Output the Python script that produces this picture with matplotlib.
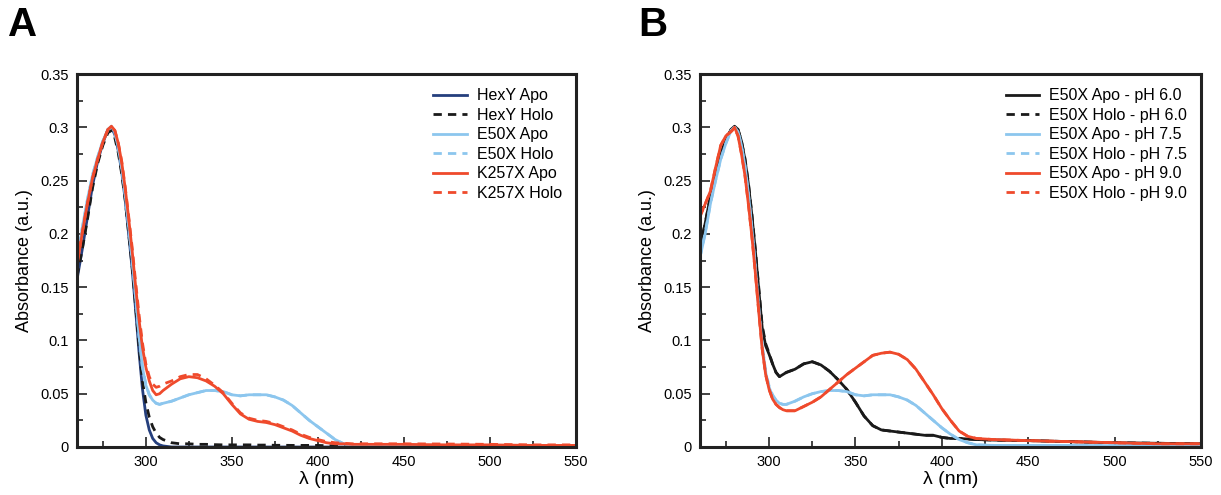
import numpy as np
import matplotlib
matplotlib.use("Agg")
import matplotlib.pyplot as plt
from matplotlib.ticker import MultipleLocator

plt.rcParams['font.family'] = ['Liberation Sans', 'DejaVu Sans']

# wavelength grid (nm), shared by every curve
wl = [260, 263, 266, 269, 272, 275, 278, 280, 282, 284, 286, 288, 290, 292, 294, 296, 298,
      300, 302, 304, 306, 308, 310, 315, 320, 325, 330, 335, 340, 345, 350, 355, 360, 365,
      370, 375, 380, 385, 390, 395, 400, 405, 410, 415, 420, 430, 450, 475, 500, 525, 550]

# ---- panel A ----
hexy_apo = [.157, .185, .215, .245, .268, .285, .298, .300, .293, .278, .258, .232, .200, .168, .130, .090, .055,
            .030, .016, .008, .004, .002, .001, 0, 0, 0, 0, 0, 0, 0, 0, 0, 0, 0,
            0, 0, 0, 0, 0, 0, 0, 0, 0, 0, 0, 0, 0, 0, 0, 0, 0]
hexy_holo = [.160, .185, .213, .243, .266, .283, .295, .297, .290, .276, .256, .232, .201, .170, .133, .095, .062,
             .042, .028, .019, .013, .009, .007, .004, .003, .003, .0025, .0025, .0022, .002, .002, .002, .002, .0018,
             .0018, .0016, .0016, .0015, .0015, .0015, .0015, .0012, .0012, .001, .001, .001, .001, .0008, .0005, .0003, .0002]
e50x_apo = [.175, .205, .232, .255, .272, .287, .298, .301, .295, .281, .262, .237, .207, .177, .142, .105, .075,
            .058, .049, .044, .041, .040, .041, .043, .046, .049, .051, .053, .053, .052, .049, .048, .049, .049,
            .049, .047, .044, .039, .032, .025, .019, .013, .007, .003, .0015, .001, .001, .0008, .0006, .0005, .0005]
e50x_holo = [.176, .205, .231, .255, .272, .287, .298, .300, .295, .281, .262, .237, .207, .177, .142, .105, .076,
             .059, .049, .044, .041, .040, .041, .043, .046, .049, .051, .053, .053, .052, .049, .048, .049, .049,
             .049, .047, .044, .039, .032, .025, .019, .013, .007, .003, .0015, .001, .001, .0008, .0006, .0005, .0005]
k257x_apo = [.170, .200, .228, .252, .270, .286, .298, .301, .297, .285, .267, .243, .215, .185, .152, .120, .094,
             .075, .062, .053, .049, .050, .053, .059, .064, .066, .065, .062, .057, .050, .040, .031, .026, .024,
             .023, .021, .018, .015, .011, .008, .006, .004, .003, .003, .0025, .0025, .0025, .002, .002, .0015, .0015]
k257x_holo = [.172, .201, .228, .252, .270, .286, .298, .300, .297, .285, .268, .244, .217, .188, .156, .125, .098,
              .078, .066, .059, .056, .057, .059, .062, .066, .068, .068, .064, .058, .051, .041, .032, .027, .025,
              .024, .022, .019, .016, .012, .009, .007, .005, .004, .0035, .003, .003, .003, .0028, .0025, .002, .002]

# ---- panel B ----
ph60_apo = [.188, .210, .235, .258, .275, .288, .298, .301, .298, .287, .270, .247, .218, .185, .148, .112, .095,
            .087, .078, .070, .066, .068, .070, .073, .078, .080, .077, .071, .063, .054, .042, .029, .020, .016,
            .015, .014, .013, .012, .011, .011, .009, .008, .008, .0075, .007, .0065, .006, .005, .004, .0035, .003]
ph60_holo = [.187, .210, .235, .258, .275, .288, .298, .300, .298, .287, .271, .248, .219, .186, .150, .114, .097,
             .088, .078, .070, .066, .068, .070, .073, .078, .080, .077, .071, .063, .054, .042, .029, .020, .016,
             .015, .014, .013, .012, .011, .011, .009, .008, .008, .0075, .007, .0065, .006, .005, .004, .0035, .003]
ph75_apo = [.178, .200, .228, .250, .270, .285, .297, .300, .296, .283, .264, .238, .206, .170, .130, .095, .070,
            .056, .048, .044, .041, .040, .040, .043, .047, .050, .052, .053, .053, .052, .049, .048, .049, .049,
            .049, .047, .044, .039, .032, .025, .018, .012, .007, .004, .002, .0015, .0015, .0015, .0012, .001, .001]
ph75_holo = [.178, .201, .228, .250, .270, .285, .297, .300, .296, .283, .264, .238, .206, .170, .131, .096, .071,
             .057, .049, .044, .041, .040, .040, .043, .047, .050, .052, .053, .053, .052, .049, .048, .049, .049,
             .049, .047, .044, .039, .032, .025, .018, .012, .007, .004, .002, .0015, .0015, .0015, .0012, .001, .001]
ph90_apo = [.217, .228, .240, .262, .283, .292, .296, .300, .292, .275, .255, .228, .198, .164, .127, .092, .068,
            .054, .045, .040, .037, .035, .034, .034, .038, .042, .047, .054, .061, .068, .074, .080, .086, .088,
            .089, .087, .082, .073, .061, .049, .036, .025, .015, .010, .008, .007, .006, .005, .004, .003, .003]
ph90_holo = [.216, .228, .240, .262, .283, .292, .296, .299, .292, .275, .255, .228, .198, .164, .127, .092, .068,
             .054, .045, .040, .037, .035, .034, .034, .038, .042, .047, .054, .061, .068, .074, .080, .086, .088,
             .089, .087, .082, .073, .061, .049, .036, .025, .015, .010, .008, .007, .006, .005, .004, .003, .003]

navy = '#253f7d'
black = '#1a1a1a'
lblue = '#8cc6ee'
red = '#ef4a2c'

series_a = [(hexy_apo, 'HexY Apo', navy, '-'),
            (hexy_holo, 'HexY Holo', black, '--'),
            (e50x_apo, 'E50X Apo', lblue, '-'),
            (e50x_holo, 'E50X Holo', lblue, '--'),
            (k257x_apo, 'K257X Apo', red, '-'),
            (k257x_holo, 'K257X Holo', red, '--')]
series_b = [(ph60_apo, 'E50X Apo - pH 6.0', black, '-'),
            (ph60_holo, 'E50X Holo - pH 6.0', black, '--'),
            (ph75_apo, 'E50X Apo - pH 7.5', lblue, '-'),
            (ph75_holo, 'E50X Holo - pH 7.5', lblue, '--'),
            (ph90_apo, 'E50X Apo - pH 9.0', red, '-'),
            (ph90_holo, 'E50X Holo - pH 9.0', red, '--')]

fig = plt.figure(figsize=(12.21, 4.95), dpi=100)
axA = fig.add_axes([77/1221, 1-447/495, (576-77)/1221, (447-74)/495])
axB = fig.add_axes([700/1221, 1-447/495, (1201-700)/1221, (447-74)/495])

for ax, series in [(axA, series_a), (axB, series_b)]:
    for vals, lab, col, ls in series:
        ax.plot(wl, vals, color=col, ls=ls, lw=2.0, label=lab,
                dashes=(3, 2.2) if ls == '--' else (None, None))
    ax.set_xlim(260, 550)
    ax.set_ylim(0, 0.35)
    ax.xaxis.set_minor_locator(MultipleLocator(25))
    ax.yaxis.set_minor_locator(MultipleLocator(0.025))
    ax.set_yticks([0, 0.05, 0.1, 0.15, 0.2, 0.25, 0.3, 0.35])
    ax.set_yticklabels(['0', '0.05', '0.1', '0.15', '0.2', '0.25', '0.3', '0.35'])
    ax.set_xticks([300, 350, 400, 450, 500, 550])
    ax.tick_params(which='both', direction='in', top=False, right=False, labelsize=10.5,
                   width=1.2, color='#222222')
    ax.tick_params(which='major', length=7, pad=6)
    ax.tick_params(which='minor', length=4)
    for sp in ax.spines.values():
        sp.set_linewidth(2.2)
        sp.set_color('#222222')
    ax.set_xlabel('λ (nm)', fontsize=14, labelpad=1)
    ax.set_ylabel('Absorbance (a.u.)', fontsize=13, labelpad=5)
    ax.legend(loc='upper right', frameon=False, fontsize=11.5, labelspacing=0.28,
              handlelength=2.1, handletextpad=0.6, borderaxespad=0.5)

fig.text(8/1221, 1-36/495, 'A', fontsize=29, fontweight='bold', va='baseline')
fig.text(638/1221, 1-36/495, 'B', fontsize=29, fontweight='bold', va='baseline')

fig.savefig('out.png', dpi=100)
